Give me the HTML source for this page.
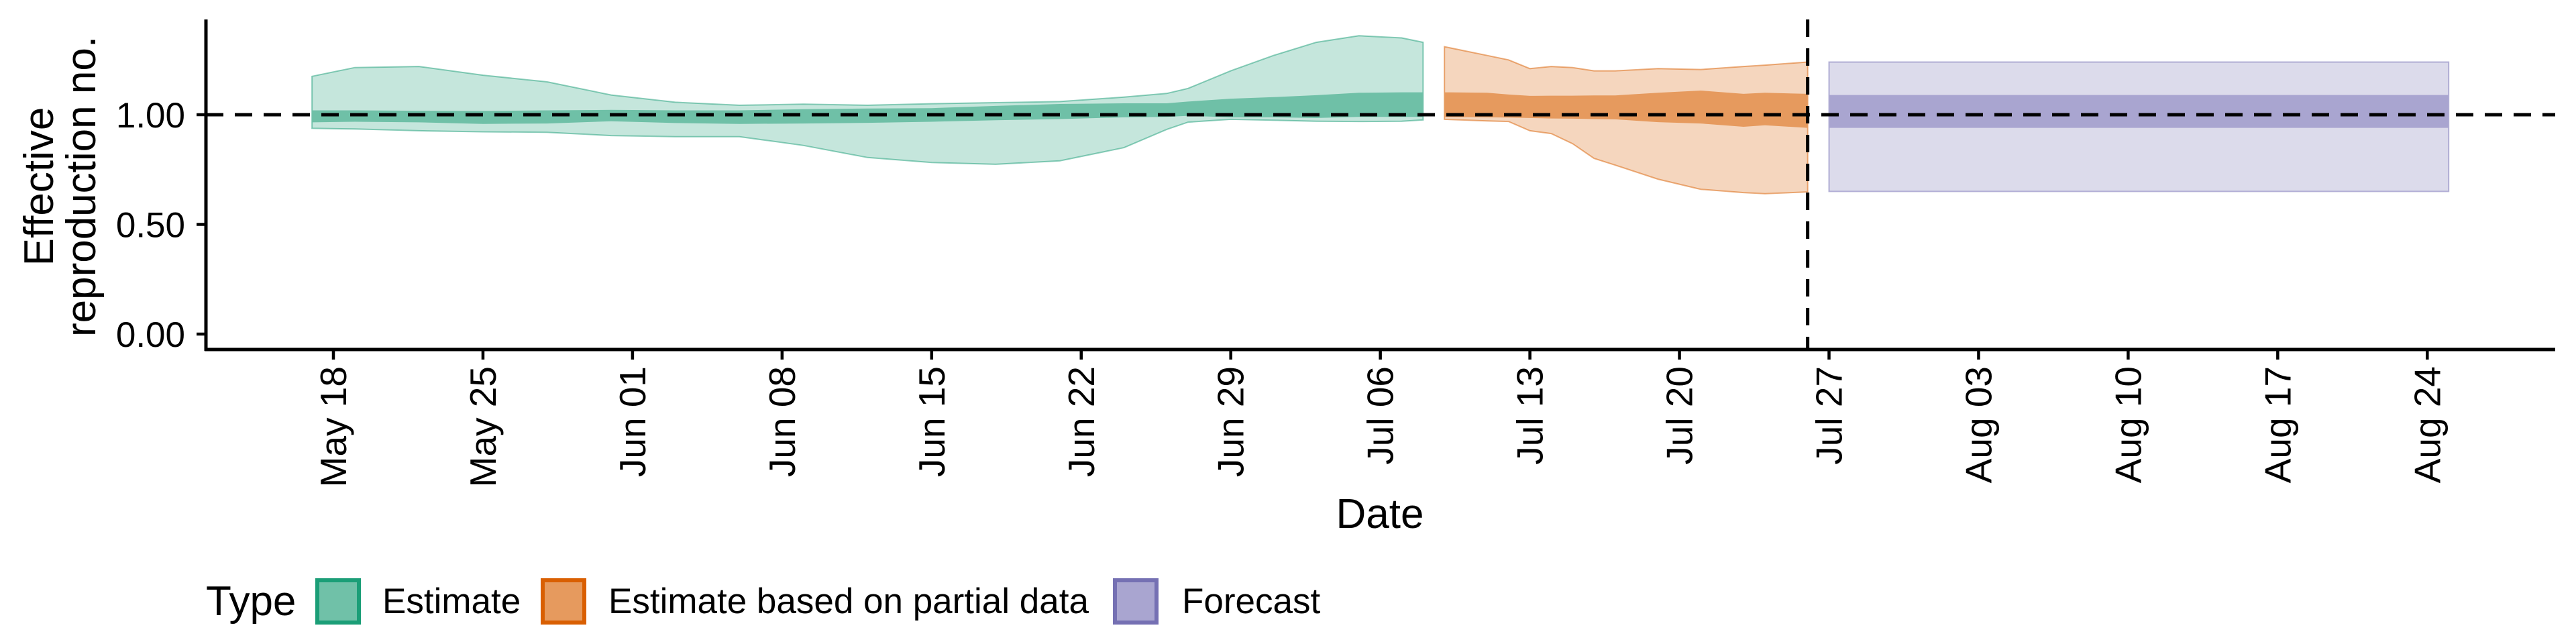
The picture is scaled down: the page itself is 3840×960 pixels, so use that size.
<!DOCTYPE html>
<html><head><meta charset="utf-8"><style>
html,body{margin:0;padding:0;background:#fff;}
svg{display:block;font-family:"Liberation Sans",sans-serif;}
</style></head><body>
<svg id="chart" width="3840" height="960" viewBox="0 0 3840 960" xmlns="http://www.w3.org/2000/svg">
<rect width="3840" height="960" fill="#fff"/>
<g id="bands"></g>
<g id="axes"></g>
<text x="2057" y="787" font-size="62" text-anchor="middle">Date</text>
<text transform="translate(79,278) rotate(-90)" font-size="62" text-anchor="middle">Effective</text>
<text transform="translate(142,278) rotate(-90)" font-size="62" text-anchor="middle">reproduction no.</text>
<g>
<text x="307" y="917" font-size="62">Type</text>
<g>
<rect x="473" y="865" width="62" height="63" fill="#70c1a8" stroke="#1b9e77" stroke-width="6"/>
<text x="570" y="914" font-size="53">Estimate</text></g>
<g>
<rect x="809" y="865" width="62" height="63" fill="#e69a5e" stroke="#d95f02" stroke-width="6"/>
<text x="907" y="914" font-size="53">Estimate based on partial data</text></g>
<g>
<rect x="1662" y="865" width="62" height="63" fill="#a9a5d0" stroke="#7570b3" stroke-width="6"/>
<text x="1762" y="914" font-size="53">Forecast</text></g>
</g>
</svg>
<script>
// Data (days offset from May 18)
const estDays   = [-1,1,4,7,10,13,16,19,22,25,28,31,34,37,39,40,42,44,46,48,50,51];
const estUp90   = [1.175,1.215,1.22,1.18,1.15,1.09,1.057,1.043,1.048,1.043,1.05,1.055,1.06,1.08,1.097,1.12,1.2,1.27,1.33,1.36,1.35,1.33];
const estLo90   = [0.938,0.935,0.927,0.922,0.92,0.905,0.9,0.9,0.86,0.805,0.782,0.774,0.79,0.85,0.933,0.966,0.979,0.975,0.97,0.969,0.97,0.976];
const estUp50   = [1.02,1.02,1.018,1.017,1.02,1.022,1.02,1.02,1.025,1.028,1.03,1.04,1.049,1.052,1.052,1.06,1.073,1.08,1.089,1.1,1.102,1.102];
const estLo50   = [0.965,0.968,0.965,0.958,0.96,0.97,0.962,0.958,0.96,0.963,0.968,0.975,0.98,0.988,0.99,0.995,0.988,0.988,0.985,0.99,0.99,0.99];
const partDays  = [52,54,55,56,57,58,59,60,62,64,66,67,69];
const partUp90  = [1.31,1.27,1.25,1.21,1.22,1.215,1.2,1.2,1.21,1.206,1.22,1.226,1.24];
const partLo90  = [0.979,0.972,0.969,0.927,0.914,0.868,0.801,0.77,0.706,0.66,0.645,0.64,0.648];
const partUp50  = [1.102,1.1,1.092,1.086,1.087,1.087,1.088,1.088,1.1,1.11,1.095,1.1,1.095];
const partLo50  = [0.99,0.988,0.987,0.985,0.983,0.982,0.98,0.979,0.966,0.96,0.945,0.952,0.94];
const fcDays    = [70,99];
const fcUp90    = [1.24,1.24];
const fcLo90    = [0.65,0.65];
const fcUp50    = [1.09,1.09];
const fcLo50    = [0.94,0.94];
const yTicks    = [0,0.5,1];
const yTickLabels = ["0.00","0.50","1.00"];
const xTickDays = [0,7,14,21,28,35,42,49,56,63,70,77,84,91,98];
const xTickLabels = ["May 18","May 25","Jun 01","Jun 08","Jun 15","Jun 22","Jun 29","Jul 06","Jul 13","Jul 20","Jul 27","Aug 03","Aug 10","Aug 17","Aug 24"];
const refLineY = 1;
const forecastStartDay = 69;

const NS="http://www.w3.org/2000/svg";
const X0=307, X1=3809, YB=521, YT=29;
const xs = d => 497 + d*31.85;
const ys = v => 498 - v*327;
function mk(tag, attrs, parent){const e=document.createElementNS(NS,tag);for(const k in attrs)e.setAttribute(k,attrs[k]);parent.appendChild(e);return e;}
const bands=document.getElementById('bands'), axes=document.getElementById('axes');
function band(days, up, lo, fill, stroke, name){
  let pts=days.map((d,i)=>xs(d).toFixed(1)+','+ys(up[i]).toFixed(1));
  for(let i=days.length-1;i>=0;i--) pts.push(xs(days[i]).toFixed(1)+','+ys(lo[i]).toFixed(1));
  const p=mk('polygon',{points:pts.join(' '),fill:fill,stroke:stroke,'stroke-width':2,'stroke-opacity':0.5},bands);
  
  
}
band(estDays,estUp90,estLo90,'#c5e6dc','#1b9e77','estimate-90-band');
band(estDays,estUp50,estLo50,'#6fc0a7','none','estimate-50-band');
band(partDays,partUp90,partLo90,'#f5d6be','#d95f02','partial-90-band');
band(partDays,partUp50,partLo50,'#e69a5e','none','partial-50-band');
band(fcDays,fcUp90,fcLo90,'#dcdbeb','#7570b3','forecast-90-band');
band(fcDays,fcUp50,fcLo50,'#a9a5d0','none','forecast-50-band');

const hl=mk('line',{x1:X0,x2:X1,y1:ys(refLineY),y2:ys(refLineY),stroke:'#000','stroke-width':5,'stroke-dasharray':'26 17'},axes);


const vl=mk('line',{x1:xs(forecastStartDay),x2:xs(forecastStartDay),y1:YT,y2:YB,stroke:'#000','stroke-width':5,'stroke-dasharray':'26 17'},axes);



const ya=mk('line',{x1:X0,x2:X0,y1:YT,y2:YB+2,stroke:'#000','stroke-width':5},axes);


const xa=mk('line',{x1:X0-2,x2:X1,y1:YB,y2:YB,stroke:'#000','stroke-width':5},axes);



yTicks.forEach((v,i)=>{
  const t=mk('line',{x1:X0-14,x2:X0,y1:ys(v),y2:ys(v),stroke:'#000','stroke-width':4.5},axes);
  
  
  const l=mk('text',{x:276,y:ys(v)+19,'font-size':53,'text-anchor':'end',fill:'#000'},axes);
  l.textContent=yTickLabels[i];
  
  
});
xTickDays.forEach((d,i)=>{
  const x=xs(d);
  const t=mk('line',{x1:x,x2:x,y1:YB,y2:YB+15,stroke:'#000','stroke-width':4.5},axes);
  
  
  const l=mk('text',{transform:'translate('+(x+19)+',546) rotate(-90)','font-size':55,'text-anchor':'end',fill:'#000'},axes);
  l.textContent=xTickLabels[i];
  
  
});
</script>
</body></html>
